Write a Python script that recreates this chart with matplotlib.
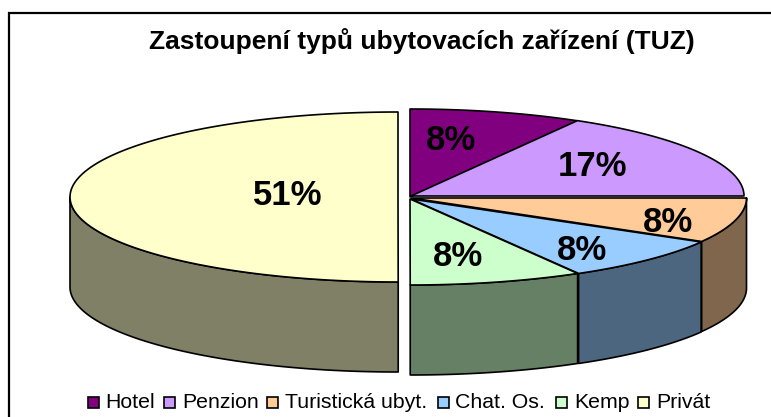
import numpy as np
import matplotlib
matplotlib.use("Agg")
import matplotlib.pyplot as plt
from matplotlib.patches import Polygon, Rectangle

categories = ["Hotel", "Penzion", "Turistická ubyt.", "Chat. Os.", "Kemp", "Privát"]
values = [8.33, 16.67, 8.33, 8.33, 8.33, 50.01]
pct_labels = ["8%", "17%", "8%", "8%", "8%", "51%"]
colors = ["#800080", "#CC99FF", "#FFCC99", "#99CCFF", "#CCFFCC", "#FFFFCC"]
title = "Zastoupení typů ubytovacích zařízení (TUZ)"

plt.rcParams["font.family"] = ["Liberation Sans", "DejaVu Sans"]
W, H = 771, 417
fig = plt.figure(figsize=(W / 100, H / 100), dpi=100)
ax = fig.add_axes([0, 0, 1, 1])
ax.set_xlim(0, W)
ax.set_ylim(H, 0)
ax.axis("off")

# pixel layout of the pie
cx = [410, 411, 411.5, 411, 410, 398]
cy = [197, 196, 198, 199, 199, 197]
rx = [335, 333, 335, 335, 335, 328]
ry = [88, 87, 87, 86, 86, 85]
depth = 90
label_xy = [(451, 140), (592, 166), (668, 222), (582, 251), (458, 257), (288, 195)]

cum = np.concatenate([[0], np.cumsum(values)]) / np.sum(values) * 2 * np.pi
LW = 1.2


def dark(c):
    return tuple(0.5 * v for v in matplotlib.colors.to_rgb(c))


def arc(i, a, b):
    t = np.linspace(a, b, 120)
    return np.column_stack([cx[i] + rx[i] * np.sin(t), cy[i] - ry[i] * np.cos(t)])


# draw far to near: only the lower half of the rim is visible
for i in [0, 1, 5, 2, 3, 4]:
    a, b = cum[i], cum[i + 1]
    lo, hi = max(a, np.pi / 2), min(b, 3 * np.pi / 2)
    if hi > lo:
        rim = arc(i, lo, hi)
        side = np.vstack([rim, (rim + [0, depth])[::-1]])
        ax.add_patch(Polygon(side, closed=True, fc=dark(colors[i]), ec="black", lw=LW, zorder=2, joinstyle="round"))
for i in [0, 1, 5, 2, 3, 4]:
    top = np.vstack([[cx[i], cy[i]], arc(i, cum[i], cum[i + 1])])
    ax.add_patch(Polygon(top, closed=True, fc=colors[i], ec="black", lw=LW, zorder=3, joinstyle="round"))

for (x, y), s in zip(label_xy, pct_labels):
    ax.text(x, y, s, ha="center", va="center", fontsize=25, fontweight="bold", color="black", zorder=5)

ax.text(421.5, 41, title, ha="center", va="center", fontsize=19, fontweight="bold", color="black")

# chart frame
ax.plot([8.5, 8.5, 771], [417, 12.5, 12.5], color="black", lw=1.6, solid_joinstyle="miter", clip_on=False)

# legend
marker_x = [88, 164, 267, 438, 555.5, 638]
text_x = [105, 182, 285, 455, 574, 656]
for mx, tx, c, name in zip(marker_x, text_x, colors, categories):
    ax.add_patch(Rectangle((mx, 397), 11, 11, fc=c, ec="black", lw=1.2, zorder=4))
    ax.text(tx, 402, name, ha="left", va="center", fontsize=15.3, color="black")

fig.savefig("out.png", dpi=100)
